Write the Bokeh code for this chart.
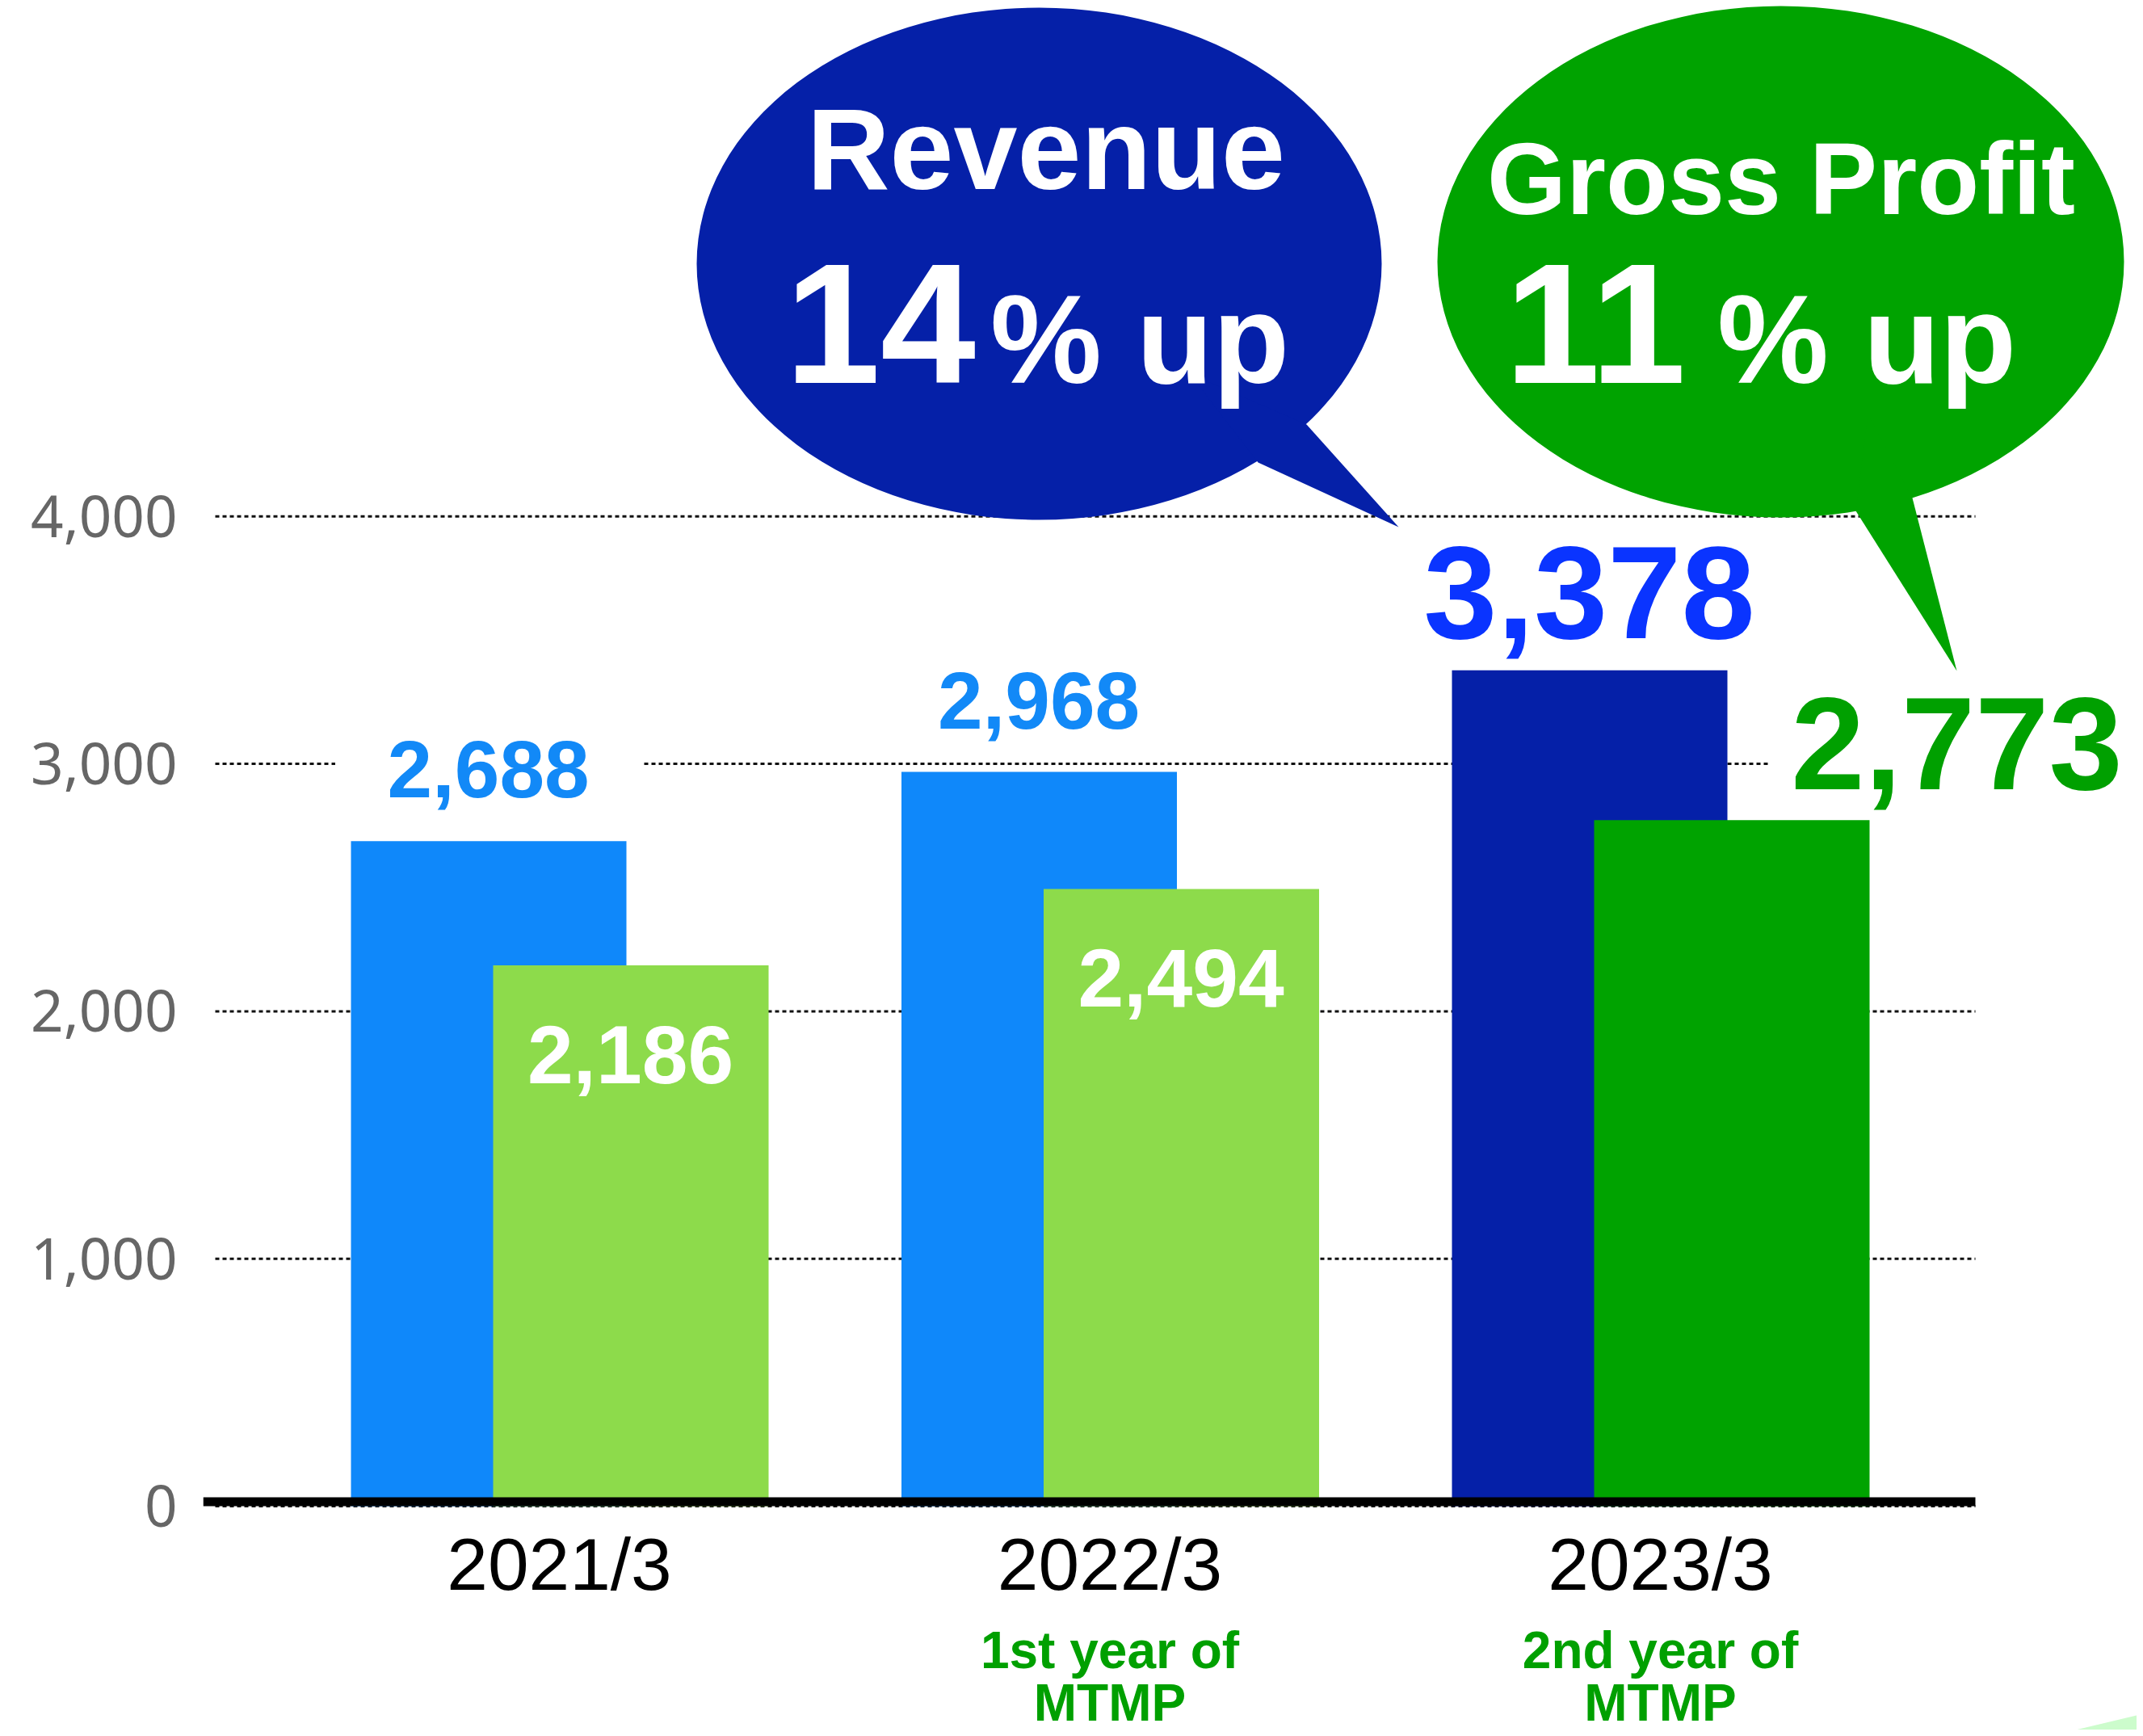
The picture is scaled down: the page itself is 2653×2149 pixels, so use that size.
import numpy as np
from bokeh.plotting import figure
from bokeh.models import (FixedTicker, NumeralTickFormatter, HTMLLabel, Range1d)
from bokeh.embed import file_html
from bokeh.resources import INLINE

# ---------------- data ----------------
categories = ["2021/3", "2022/3", "2023/3"]
revenue = [2688, 2968, 3378]
gross_profit = [2186, 2494, 2773]
subtitle_line1 = ["", "1st year of", "2nd year of"]
subtitle_line2 = ["", "MTMP", "MTMP"]
y_ticks = [0, 1000, 2000, 3000, 4000]
callout_titles = ["Revenue", "Gross Profit"]
callout_growth = ["14", "11"]
callout_suffix = ["% up", "% up"]
unit_text = "(Y)"

# ---------------- styles ----------------
rev_colors = ["#0F88FA", "#0F88FA", "#0520A8"]
gp_colors = ["#8DDB4B", "#8DDB4B", "#00A300"]
rev_label_colors = ["#1289F7", "#1289F7", "#0A34FF"]
rev_label_sizes = [100, 100, 164]
rev_label_gap = [54, 54, 39]
gp_label_out_color = "#00A000"
navy = "#0520A8"
green = "#00A300"
BOLD_FONT = "Roboto"

W, H = 2645, 2141
X0, PXX = 700.5, 681.5     # page px of group 0 centre, px per category step
Y0, PXY = 1872.0, 0.3063   # page px of value 0, px per value unit


def dx(X):
    return (X - X0) / PXX


def dy(Y):
    return (Y0 - Y) / PXY


def vy(v):
    """page px of a data value"""
    return Y0 - v * PXY


p = figure(width=W, height=H, output_backend="svg", toolbar_location=None,
           x_range=Range1d(dx(259), dx(2653)), y_range=Range1d(dy(2149), dy(8)),
           min_border_left=251, min_border_right=0, min_border_top=0,
           min_border_bottom=0)
p.outline_line_color = None
p.background_fill_color = "white"
p.border_fill_color = "white"

# value axis
p.yaxis.ticker = FixedTicker(ticks=y_ticks)
p.yaxis.formatter = NumeralTickFormatter(format="0,0")
p.yaxis.axis_line_color = None
p.yaxis.major_tick_line_color = None
p.yaxis.minor_tick_line_color = None
p.yaxis.major_tick_out = 0
p.yaxis.major_tick_in = 0
p.yaxis.major_label_standoff = 32
p.yaxis.major_label_text_font = "Noto Sans"
p.yaxis.major_label_text_font_size = "71px"
p.yaxis.major_label_text_color = "#666666"

idx = list(range(len(categories)))
p.xaxis.visible = False
p.xgrid.visible = False
p.ygrid.visible = False

# dotted value gridlines (drawn from the tick values)
p.segment(x0=[dx(274)] * len(y_ticks), x1=[dx(2453)] * len(y_ticks),
          y0=y_ticks, y1=y_ticks, line_color="#111111", line_width=3,
          line_dash="5 4")

off = 88 / PXX
bw = 341 / PXX
rev_x = [i - off for i in idx]
gp_x = [i + off for i in idx]

# white knock-out boxes behind the outside labels (break the gridlines)
p.rect(x=rev_x[:2], y=[v + 89 / PXY for v in revenue[:2]], width=380, height=90,
       width_units="screen", height_units="screen", fill_color="white",
       line_color=None)
p.rect(x=[gp_x[2] + 279 / PXX], y=[gross_profit[2] + 93 / PXY], width=462,
       height=90, width_units="screen", height_units="screen",
       fill_color="white", line_color=None)

# bars
p.vbar(x=rev_x, top=revenue, bottom=0, width=bw, fill_color=rev_colors,
       line_color=None)
p.vbar(x=gp_x, top=gross_profit, bottom=0, width=bw, fill_color=gp_colors,
       line_color=None)

# baseline
p.segment(x0=[dx(259)], y0=[18], x1=[dx(2453)], y1=[18], line_color="black",
          line_width=11, line_cap="butt")

# callouts
p.ellipse(x=[dx(1294)], y=[dy(334)], width=[848 / PXX], height=[634 / PXY],
          fill_color=navy, line_color=None)
p.patch(x=[dx(1625), dx(1739), dx(1565), dx(1480)],
        y=[dy(533), dy(660), dy(580), dy(470)], fill_color=navy, line_color=None)
p.ellipse(x=[dx(2212)], y=[dy(331.5)], width=[850 / PXX], height=[633 / PXY],
          fill_color=green, line_color=None)
p.patch(x=[dx(2375), dx(2430), dx(2305), dx(2320)],
        y=[dy(624), dy(838), dy(640), dy(520)], fill_color=green, line_color=None)

# light green corner shape
p.patch(x=[dx(2577), dx(2653), dx(2653)], y=[dy(2149), dy(2131), dy(2149)],
        fill_color="#CCFCCC", line_color=None)


def lab(x, yb, text, size, color, align="center", font=BOLD_FONT, style="bold",
        k=0.342):
    """label whose alphabetic baseline sits at page-px yb (middle-anchored)"""
    p.add_layout(HTMLLabel(x=x, y=dy(yb - k * size), text=text, text_font=font,
                           text_font_style=style, text_font_size=f"{size}px",
                           text_color=color, text_align=align,
                           text_baseline="middle"))


# value labels above revenue bars
for i in idx:
    lab(rev_x[i], vy(revenue[i]) - rev_label_gap[i], f"{revenue[i]:,}",
        rev_label_sizes[i], rev_label_colors[i])

# value labels for gross profit
for i in idx[:2]:
    lab(gp_x[i], vy(gross_profit[i]) + 146, f"{gross_profit[i]:,}", 102, "white")
lab(gp_x[2] + 279 / PXX, vy(gross_profit[2]) - 38, f"{gross_profit[2]:,}", 164,
    gp_label_out_color)

# callout texts
lab(dx(1303), 242, callout_titles[0], 142, "white")
lab(dx(2213), 272, callout_titles[1], 126, "white")
lab(dx(980), 482, callout_growth[0], 212, "white", align="left")
lab(dx(1871), 482, callout_growth[1], 212, "white", align="left")
lab(dx(1234), 482, callout_suffix[0], 155, "white", align="left")
lab(dx(2134), 482, callout_suffix[1], 155, "white", align="left")

# category labels and subtitles under the bars
for i in idx:
    lab(i, 1980, categories[i], 91, "black", font="Noto Sans", style="normal",
        k=0.388)
    if subtitle_line1[i]:
        lab(i, 2073, subtitle_line1[i], 64, "#00A000")
        lab(i, 2138, subtitle_line2[i], 64, "#00A000")

# unit text, partly cut off at left edge
lab(dx(40), 2041, unit_text, 58, "#999999", align="right", font="Noto Sans",
    style="normal", k=0.388)

open("out.html", "w").write(file_html(p, INLINE))
